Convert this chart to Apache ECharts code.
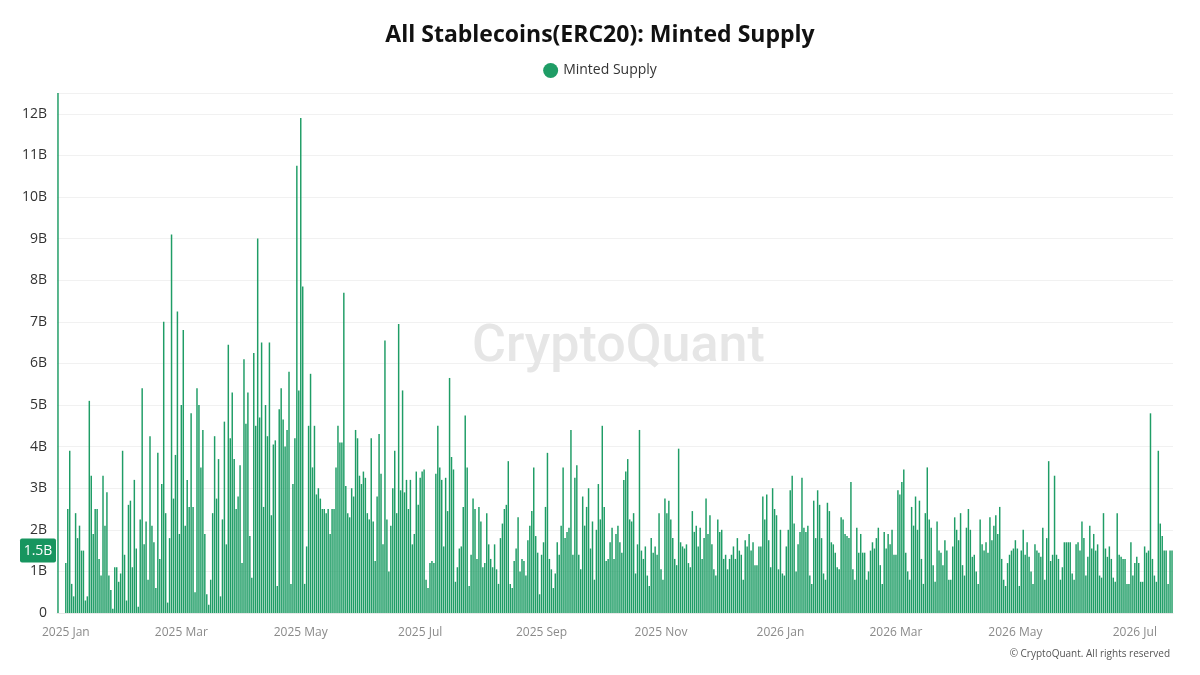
<!DOCTYPE html>
<html>
<head>
<meta charset="utf-8">
<script src="https://cdn.jsdelivr.net/npm/echarts@6/dist/echarts.min.js"></script>
<style>
  html, body { margin: 0; padding: 0; background: #fff; }
  #chart { width: 1200px; height: 675px; }
</style>
</head>
<body>
<div id="chart"></div>
<script>
// daily minted supply, in billions
var dec2024 = [12.5, null, null, null];
var jan2025 = [1.2, 2.5, 3.9, 0.7, 0.4, 2.4, 1.8, 2.1, 1.5, 1.5, 0.3, 0.4, 5.1, 3.3, 1.9, 2.5, 2.5, 1.3, 0.9, 3.3, 2.1, 2.9, 0.9, 0.55, 0.1, 1.1, 1.1, 0.75, 0.95, 3.9, 1.4];
var feb2025 = [0.3, 2.6, 2.7, 1.1, 3.2, 1.55, 0.15, 2.25, 5.4, 1.65, 2.2, 0.8, 4.25, 2.1, 1.7, 0.6, 3.85, 1.3, 3.1, 7.0, 2.4, 0.25, 1.8, 9.1, 2.75, 3.8, 7.25, 1.9];
var mar2025 = [5.0, 6.8, 2.1, 3.2, 2.55, 4.8, 2.55, 0.5, 5.4, 5.0, 3.5, 4.4, 1.9, 0.45, 0.2, 0.8, 2.4, 4.25, 2.75, 3.7, 0.4, 2.25, 4.6, 1.65, 6.45, 4.2, 5.3, 3.7, 2.5, 2.8, 3.55];
var apr2025 = [1.2, 6.1, 4.55, 5.3, 1.85, 0.85, 6.25, 4.5, 9.0, 4.7, 6.5, 2.55, 5.0, 4.25, 6.5, 2.35, 4.05, 4.15, 0.65, 4.9, 5.4, 4.65, 4.0, 4.4, 5.8, 0.7, 3.1, 4.2, 10.75, 5.35];
var may2025 = [11.9, 7.85, 0.7, 1.6, 4.5, 5.75, 3.5, 4.5, 2.85, 3.0, 2.75, 2.5, 2.5, 2.4, 2.5, 1.9, 2.5, 2.5, 3.5, 4.5, 4.1, 4.1, 7.7, 3.05, 2.4, 2.3, 3.0, 2.8, 4.4, 4.2, 3.3];
var jun2025 = [3.1, 3.4, 3.25, 2.4, 2.25, 4.2, 2.2, 1.25, 2.8, 4.3, 3.35, 1.65, 6.55, 2.25, 1.0, 2.1, 3.0, 3.9, 2.4, 6.95, 2.95, 5.35, 2.9, 3.2, 2.5, 3.2, 1.65, 1.9, 3.4, 2.6];
var jul2025 = [3.25, 3.4, 3.45, 0.8, 0.6, 1.2, 1.25, 1.2, 3.35, 4.5, 3.5, 3.2, 1.6, 3.25, 2.45, 5.65, 3.75, 3.45, 0.75, 1.1, 1.55, 1.6, 2.55, 4.75, 3.5, 0.65, 1.4, 2.75, 2.5, 1.3, 2.55];
var aug2025 = [2.2, 1.1, 1.2, 2.4, 1.65, 1.3, 1.1, 1.65, 1.05, 0.7, 1.8, 2.15, 2.5, 2.6, 3.65, 0.7, 0.6, 1.25, 1.55, 2.3, 1.0, 1.3, 1.25, 0.9, 1.75, 2.1, 2.45, 3.5, 1.85, 1.45, 0.45];
var sep2025 = [1.4, 1.7, 2.55, 3.85, 1.3, 1.05, 0.6, 0.95, 1.7, 1.4, 2.1, 3.5, 1.8, 1.95, 2.05, 4.4, 1.4, 3.25, 3.55, 1.4, 1.05, 2.8, 2.1, 2.55, 3.0, 1.55, 2.2, 0.8, 2.0, 3.1];
var oct2025 = [2.25, 4.5, 2.55, 1.25, 1.3, 1.7, 2.05, 1.3, 1.9, 2.1, 1.7, 1.45, 3.2, 3.4, 3.7, 2.25, 2.2, 2.4, 0.95, 1.65, 4.4, 1.5, 1.3, 1.6, 0.9, 0.65, 1.8, 1.45, 1.6, 1.4, 2.4];
var nov2025 = [1.05, 0.8, 2.75, 2.4, 2.7, 2.25, 1.8, 1.3, 1.15, 3.95, 1.7, 1.6, 1.55, 1.65, 1.2, 1.1, 2.45, 1.95, 2.1, 1.6, 2.05, 1.3, 1.8, 2.75, 1.9, 2.35, 1.65, 1.05, 0.9, 2.25];
var dec2025 = [1.95, 2.0, 1.3, 1.4, 1.05, 1.3, 1.4, 1.6, 1.3, 1.8, 1.5, 1.4, 0.8, 1.75, 1.6, 1.9, 1.5, 1.7, 1.15, 1.15, 1.6, 1.6, 2.8, 2.25, 2.85, 1.75, 1.1, 3.0, 2.5, 2.35, 1.05];
var jan2026 = [2.0, 0.95, 0.9, 1.6, 2.0, 2.95, 3.3, 2.15, 1.0, 1.65, 1.95, 3.25, 2.05, 1.95, 2.1, 0.9, 0.7, 2.7, 1.8, 2.95, 2.6, 1.8, 0.95, 0.8, 2.65, 2.45, 1.7, 1.65, 1.45, 1.1, 1.05];
var feb2026 = [2.3, 2.25, 1.9, 1.85, 1.8, 3.15, 1.05, 0.8, 2.05, 1.45, 1.9, 1.45, 1.45, 0.8, 1.0, 1.5, 1.7, 1.55, 1.8, 2.05, 1.15, 0.7, 1.95, 1.55, 1.9, 1.65, 2.0, 1.4];
var mar2026 = [1.4, 2.95, 2.85, 3.15, 3.45, 1.45, 1.0, 0.8, 2.55, 2.1, 2.8, 2.0, 2.7, 1.3, 0.7, 2.4, 3.5, 2.25, 2.05, 1.15, 0.75, 2.2, 1.5, 1.45, 1.15, 1.75, 1.5, 0.8, 0.8, 1.6, 2.3];
var apr2026 = [2.0, 1.75, 2.4, 1.15, 0.9, 2.05, 2.5, 2.0, 1.35, 1.4, 1.0, 0.7, 2.25, 1.65, 1.5, 1.7, 1.45, 2.3, 1.75, 2.1, 2.35, 1.9, 2.55, 1.3, 0.8, 0.65, 1.2, 1.4, 1.5, 1.55];
var may2026 = [1.75, 1.55, 0.65, 1.5, 2.0, 1.4, 1.7, 1.35, 1.0, 0.7, 1.65, 1.5, 1.45, 1.35, 2.05, 0.8, 1.8, 3.65, 1.25, 1.4, 3.3, 1.4, 1.3, 0.8, 1.1, 1.7, 1.7, 1.7, 1.7, 0.95, 0.8];
var jun2026 = [1.65, 1.7, 1.5, 2.2, 1.8, 0.9, 1.35, 2.1, 1.55, 1.9, 1.5, 1.65, 0.9, 0.85, 2.4, 1.55, 1.35, 1.6, 1.3, 0.85, 0.75, 2.4, 1.4, 1.35, 1.3, 1.3, 0.7, 0.7, 1.7, 0.9];
var jul2026 = [1.2, 1.35, 1.2, 0.75, 0.75, 1.6, 1.45, 1.5, 4.8, 1.3, 0.9, 0.75, 3.9, 2.15, 1.85, 1.5, 1.5, 0.7, 1.5, 1.5];

var MONTHS = ['Jan', 'Feb', 'Mar', 'Apr', 'May', 'Jun', 'Jul', 'Aug', 'Sep', 'Oct', 'Nov', 'Dec'];
var yTicks = [0, 1, 2, 3, 4, 5, 6, 7, 8, 9, 10, 11, 12];

var values = [].concat(dec2024, jan2025, feb2025, mar2025, apr2025, may2025, jun2025, jul2025,
  aug2025, sep2025, oct2025, nov2025, dec2025, jan2026, feb2026, mar2026, apr2026, may2026, jun2026, jul2026);

// one category per day, starting 2024-12-28
var dates = [];
var start = Date.UTC(2024, 11, 28);
for (var i = 0; i < values.length; i++) {
  var d = new Date(start + i * 86400000);
  dates.push(d.getUTCFullYear() + '-' + (d.getUTCMonth() + 1) + '-' + d.getUTCDate());
}
var lastValue = values[values.length - 1];

var chart = echarts.init(document.getElementById('chart'));
var option = {
  backgroundColor: '#ffffff',
  animation: false,
  title: {
    text: 'All Stablecoins(ERC20): Minted Supply',
    left: 'center',
    top: 19,
    textStyle: { fontFamily: 'Open Sans', fontSize: 23, fontWeight: 'bold', color: '#111' }
  },
  legend: {
    top: 58,
    left: 'center',
    icon: 'circle',
    itemWidth: 15,
    itemHeight: 15,
    itemGap: 6,
    textStyle: { fontFamily: 'Open Sans', fontSize: 14, color: '#333' },
    data: ['Minted Supply']
  },
  grid: { left: 57, right: 27, top: 93, bottom: 62 },
  xAxis: {
    type: 'category',
    data: dates,
    axisTick: { show: false },
    axisLine: { lineStyle: { color: '#e8e8e8' } },
    axisLabel: {
      color: '#8a8a8a',
      fontFamily: 'Open Sans',
      fontSize: 12,
      margin: 14,
      interval: function (idx, val) {
        var p = val.split('-');
        return p[2] === '1' && (+p[1]) % 2 === 1;
      },
      formatter: function (val) {
        var p = val.split('-');
        return p[0] + ' ' + MONTHS[+p[1] - 1];
      }
    },
    splitLine: { show: false }
  },
  yAxis: {
    type: 'value',
    min: yTicks[0],
    max: 'dataMax',
    interval: 1,
    axisLine: { show: false },
    axisTick: { show: false },
    axisLabel: {
      color: '#333',
      fontFamily: 'Open Sans',
      fontSize: 14,
      margin: 10,
      showMaxLabel: false,
      formatter: function (v) {
        if (yTicks.indexOf(v) < 0) return '';
        return v === 0 ? '0' : v + 'B';
      }
    },
    splitLine: { lineStyle: { color: '#f1f1f1' } }
  },
  series: [
    {
      name: 'Minted Supply',
      type: 'bar',
      data: values,
      barCategoryGap: '25%',
      itemStyle: { color: '#1f9d66' },
      z: 2
    }
  ]
};
chart.setOption(option);

// watermark, copyright and the last-value badge on the y axis
var badgeY = chart.convertToPixel({ yAxisIndex: 0 }, lastValue);
chart.setOption({
  graphic: [
    {
      type: 'text',
      id: 'watermark',
      left: 472,
      top: 322,
      z: 0,
      style: { text: 'CryptoQuant', fontFamily: 'Roboto', fontSize: 52, fontWeight: 500, fill: '#e6e6e6' }
    },
    {
      type: 'text',
      id: 'copyright',
      right: 30,
      top: 649,
      style: { text: '\u00a9 CryptoQuant. All rights reserved', fontFamily: 'Open Sans', fontSize: 10, fill: '#555' }
    },
    {
      type: 'group',
      id: 'lastBadge',
      left: 20,
      top: badgeY - 12,
      z: 10,
      children: [
        { type: 'rect', shape: { x: 0, y: 0, width: 36, height: 24, r: 2 }, style: { fill: '#17955f' } },
        {
          type: 'text', x: 18, y: 12,
          style: { text: lastValue + 'B', fill: '#fff', fontFamily: 'Open Sans', fontSize: 14, align: 'center', verticalAlign: 'middle' }
        }
      ]
    }
  ]
});
</script>
</body>
</html>
